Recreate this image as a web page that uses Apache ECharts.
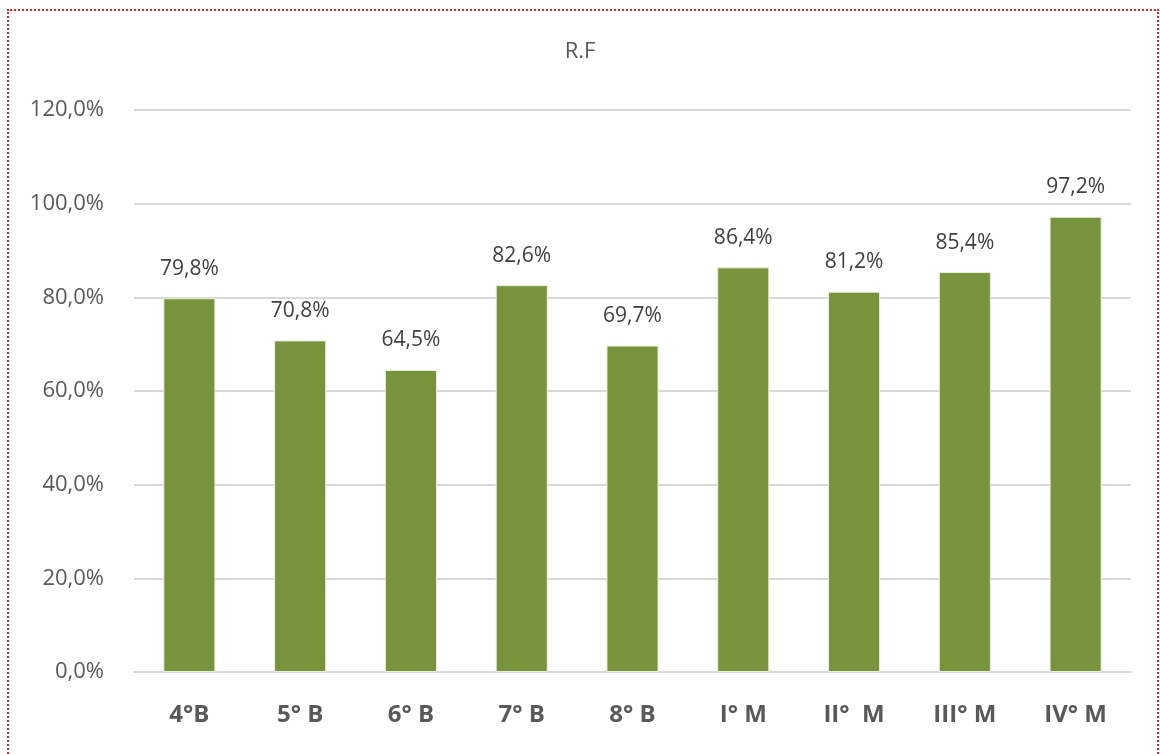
<!DOCTYPE html>
<html>
<head>
<meta charset="utf-8">
<script src="https://cdn.jsdelivr.net/npm/echarts@6/dist/echarts.min.js"></script>
<style>
    body { margin: 0; background: #fff; }
    #chart { width: 1160px; height: 754px; }
    #frame {
        position: absolute; left: 7px; top: 9px; width: 1148px; height: 800px;
        border: 2px dotted #d9262e; pointer-events: none;
    }
</style>
</head>
<body>
<div id="chart"></div>
<div id="frame"></div>
<script>
const categories = ['4°B', '5° B', '6° B', '7° B', '8° B', 'I° M', 'II°  M', 'III° M', 'IV° M'];
const rfValues = [79.8, 70.8, 64.5, 82.6, 69.7, 86.4, 81.2, 85.4, 97.2];
const titleText = 'R.F';

// formato con coma decimal
const pct = v => v.toFixed(1).replace('.', ',') + '%';

let chart = echarts.init(document.getElementById('chart'));
let option = {
    animation: false,
    title: {
        text: titleText,
        left: 'center',
        top: 36,
        textStyle: { fontFamily: 'Open Sans', fontSize: 22, fontWeight: 'normal', color: '#595959' }
    },
    grid: { left: 134, right: 29, top: 110, bottom: 82 },
    xAxis: {
        type: 'category',
        data: categories,
        axisLine: { lineStyle: { color: '#d9d9d9', width: 2 } },
        axisTick: { length: 11, lineStyle: { color: '#d9d9d9', width: 2 } },
        axisLabel: {
            margin: 31,
            fontFamily: 'Open Sans',
            fontSize: 24,
            fontWeight: 'bold',
            color: '#595959'
        }
    },
    yAxis: {
        type: 'value',
        min: 0,
        max: 120,
        interval: 20,
        axisLine: { show: false },
        axisTick: { show: false },
        splitLine: { lineStyle: { color: '#d9d9d9', width: 2 } },
        axisLabel: {
            margin: 30,
            fontFamily: 'Open Sans',
            fontSize: 22,
            color: '#595959',
            formatter: pct
        }
    },
    series: [{
        type: 'bar',
        data: rfValues,
        barWidth: '47%',
        itemStyle: { color: '#77933c', borderColor: '#e8f0dc', borderWidth: 1 },
        label: {
            show: true,
            position: 'top',
            distance: 19,
            fontFamily: 'Open Sans',
            fontSize: 21,
            color: '#404040',
            formatter: p => pct(p.value)
        }
    }]
};
chart.setOption(option);
</script>
</body>
</html>
